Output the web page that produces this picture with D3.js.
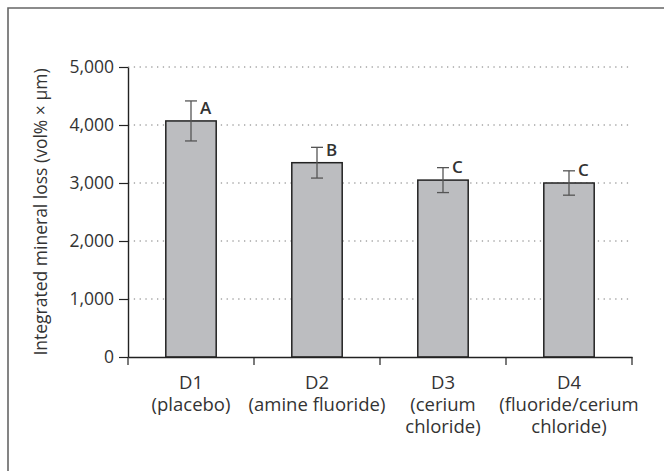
<!DOCTYPE html>
<html>
<head>
<meta charset="utf-8">
<script src="https://cdn.jsdelivr.net/npm/d3@7"></script>
<style>
	body { margin: 0; background: #fff; }
	text { font-family: 'Open Sans', 'Noto Sans', sans-serif; fill: #333; }
</style>
</head>
<body>
<div id="chart"></div>
<script>
// chart data
const categories = ['D1', 'D2', 'D3', 'D4']
const subLabels = [
	['(placebo)'],
	['(amine fluoride)'],
	['(cerium', 'chloride)'],
	['(fluoride/cerium', 'chloride)']
]
const means = [4070, 3350, 3050, 3000]
const errors = [345, 265, 215, 210]
const letters = ['A', 'B', 'C', 'C']
const yTicks = [0, 1000, 2000, 3000, 4000, 5000]

const width = 664
const height = 471
const margin = { top: 67, right: 32, bottom: 114, left: 128 }
const fontSize = 17.5

let svg = d3.select('#chart')
	.append('svg')
	.attr('width', width)
	.attr('height', height)

// the cropped frame: only top and left edges show
svg.append('path')
	.attr('d', `M8,${height}V8H${width}`)
	.attr('fill', 'none')
	.attr('stroke', '#666')
	.attr('stroke-width', 1.6)

let x = d3.scaleBand()
	.domain(categories)
	.range([margin.left, width - margin.right])
	.paddingInner(0.6)
	.paddingOuter(0.3)

let y = d3.scaleLinear()
	.domain([0, 5000])
	.range([height - margin.bottom, margin.top])

// dotted grid lines
svg.append('g')
	.selectAll('line')
	.data(yTicks.filter(d => d > 0))
	.enter()
		.append('line')
		.attr('x1', margin.left)
		.attr('x2', width - margin.right)
		.attr('y1', d => y(d))
		.attr('y2', d => y(d))
		.attr('stroke', '#777')
		.attr('stroke-width', 1)
		.attr('stroke-dasharray', '1.3,4.5')

// bars
svg.append('g')
	.selectAll('rect')
	.data(means)
	.enter()
		.append('rect')
		.attr('x', (d, i) => x(categories[i]))
		.attr('y', d => y(d))
		.attr('width', x.bandwidth())
		.attr('height', d => y(0) - y(d))
		.attr('fill', '#bcbdc0')
		.attr('stroke', '#222')
		.attr('stroke-width', 1.5)

// error bars
let err = svg.append('g')
	.attr('stroke', '#555')
	.attr('stroke-width', 1.3)
	.selectAll('g')
	.data(means)
	.enter()
		.append('g')
		.attr('transform', (d, i) => `translate(${x(categories[i]) + x.bandwidth() / 2},0)`)

err.append('line')
	.attr('y1', (d, i) => y(d + errors[i]))
	.attr('y2', (d, i) => y(d - errors[i]))
err.append('line')
	.attr('x1', -6).attr('x2', 6)
	.attr('y1', (d, i) => y(d + errors[i]))
	.attr('y2', (d, i) => y(d + errors[i]))
err.append('line')
	.attr('x1', -6).attr('x2', 6)
	.attr('y1', (d, i) => y(d - errors[i]))
	.attr('y2', (d, i) => y(d - errors[i]))

// significance letters
svg.append('g')
	.selectAll('text')
	.data(means)
	.enter()
		.append('text')
		.attr('x', (d, i) => x(categories[i]) + x.bandwidth() / 2 + 9)
		.attr('y', d => y(d) - 7)
		.attr('font-size', 17)
		.attr('font-weight', 600)
		.text((d, i) => letters[i])

// y axis
let yAxis = svg.append('g')
	.attr('transform', `translate(${margin.left},0)`)
	.call(d3.axisLeft(y)
		.tickValues(yTicks)
		.tickSize(9)
		.tickSizeOuter(0)
		.tickPadding(5)
		.tickFormat(d3.format(',')))
yAxis.attr('font-size', null).attr('font-family', null)
yAxis.select('.domain').attr('stroke', '#222').attr('stroke-width', 1.4)
yAxis.selectAll('.tick line').attr('stroke', '#222').attr('stroke-width', 1.2)
yAxis.selectAll('.tick text')
	.attr('font-size', fontSize)
	.attr('fill', '#333')

// x axis: line only, ticks go between the bands
let xAxis = svg.append('g')
	.attr('transform', `translate(0,${y(0)})`)
	.call(d3.axisBottom(x).tickSize(0).tickSizeOuter(0).tickFormat(''))
xAxis.attr('font-size', null).attr('font-family', null)
xAxis.select('.domain').attr('stroke', '#222').attr('stroke-width', 1.4)

let bounds = categories.map(c => x(c) + x.bandwidth() / 2 - x.step() / 2)
bounds.push(x.range()[1])
xAxis.selectAll('.sep')
	.data(bounds)
	.enter()
		.append('line')
		.attr('class', 'sep')
		.attr('x1', d => d).attr('x2', d => d)
		.attr('y1', 0).attr('y2', 8)
		.attr('stroke', '#222')
		.attr('stroke-width', 1.2)

let xLabels = xAxis.selectAll('.lab')
	.data(categories)
	.enter()
		.append('text')
		.attr('class', 'lab')
		.attr('text-anchor', 'middle')
		.attr('font-size', 18.5)
		.attr('transform', d => `translate(${x(d) + x.bandwidth() / 2},0)`)

xLabels.selectAll('tspan')
	.data((d, i) => [d].concat(subLabels[i]))
	.enter()
		.append('tspan')
		.attr('x', 0)
		.attr('y', (d, j) => 32 + j * 22)
		.text(d => d)

// y axis title
svg.append('text')
	.attr('transform', `translate(47,${(y(0) + y(5000)) / 2}) rotate(-90)`)
	.attr('text-anchor', 'middle')
	.attr('font-size', fontSize)
	.text('Integrated mineral loss (vol% × μm)')
</script>
</body>
</html>
